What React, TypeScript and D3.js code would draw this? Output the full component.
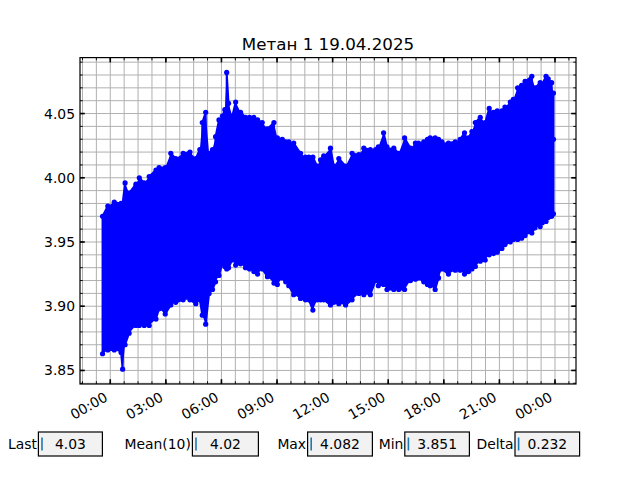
import React from "react";
import * as d3 from "d3";

// ---- data (envelope of the dense signal) ----
const times = [
  "18T23:35","18T23:52","19T00:13","19T00:35","19T00:40","19T00:48","19T01:01","19T01:23","19T01:34","19T01:50",
  "19T02:06","19T02:28","19T02:38","19T02:58","19T03:16","19T03:32","19T03:56","19T04:18","19T04:37","19T04:50",
  "19T04:58","19T05:09","19T05:20","19T05:31","19T05:41","19T05:52","19T06:03","19T06:11","19T06:17","19T06:23",
  "19T06:35","19T06:46","19T07:02","19T07:18","19T07:31","19T07:45","19T07:57","19T08:12","19T08:29","19T08:50",
  "19T09:01","19T09:17","19T09:28","19T09:38","19T09:54","19T10:16","19T10:32","19T10:43","19T10:56","19T11:10",
  "19T11:21","19T11:31","19T11:53","19T12:04","19T12:20","19T12:42","19T13:03","19T13:25","19T13:41","19T14:02",
  "19T14:19","19T14:28","19T14:45","19T14:56","19T15:18","19T15:34","19T15:53","19T16:12","19T16:28","19T16:38",
  "19T16:55","19T17:07","19T17:16","19T17:32","19T17:43","19T17:54","19T18:15","19T18:37","19T18:53","19T19:07",
  "19T19:20","19T19:31","19T19:42","19T19:58","19T20:14","19T20:27","19T20:41","19T20:53","19T21:08","19T21:18",
  "19T21:35","19T21:45","19T21:59","19T22:12","19T22:23","19T22:45","19T22:55","19T23:12","19T23:19","19T23:31",
  "19T23:38","19T23:49","19T23:55",
];

const highs = [
  3.970, 3.978, 3.981, 3.980, 3.980, 3.996, 3.988, 3.995, 4.000, 3.996,
  4.001, 4.006, 4.008, 4.008, 4.019, 4.015, 4.019, 4.020, 4.015, 4.022,
  4.043, 4.051, 4.019, 4.022, 4.032, 4.045, 4.048, 4.053, 4.082, 4.058,
  4.048, 4.059, 4.051, 4.047, 4.047, 4.047, 4.045, 4.043, 4.038, 4.043,
  4.031, 4.030, 4.028, 4.028, 4.027, 4.019, 4.016, 4.016, 4.016, 4.009,
  4.014, 4.017, 4.023, 4.009, 4.015, 4.009, 4.019, 4.018, 4.023, 4.022,
  4.022, 4.024, 4.035, 4.024, 4.023, 4.019, 4.031, 4.023, 4.027, 4.027,
  4.028, 4.030, 4.031, 4.031, 4.030, 4.028, 4.027, 4.028, 4.030, 4.035,
  4.031, 4.036, 4.043, 4.047, 4.043, 4.054, 4.051, 4.052, 4.052, 4.055,
  4.059, 4.061, 4.070, 4.072, 4.075, 4.079, 4.070, 4.074, 4.073, 4.079,
  4.077, 4.074, 4.066,
];

const lows = [
  3.863, 3.866, 3.866, 3.864, 3.851, 3.870, 3.879, 3.885, 3.885, 3.885,
  3.885, 3.890, 3.898, 3.894, 3.901, 3.903, 3.905, 3.905, 3.902, 3.905,
  3.893, 3.886, 3.910, 3.913, 3.919, 3.924, 3.933, 3.931, 3.929, 3.930,
  3.936, 3.932, 3.933, 3.930, 3.929, 3.927, 3.925, 3.929, 3.923, 3.918,
  3.917, 3.922, 3.919, 3.916, 3.909, 3.906, 3.905, 3.905, 3.897, 3.905,
  3.905, 3.905, 3.901, 3.903, 3.902, 3.901, 3.905, 3.910, 3.909, 3.909,
  3.920, 3.916, 3.917, 3.913, 3.913, 3.913, 3.913, 3.920, 3.921, 3.922,
  3.919, 3.917, 3.916, 3.913, 3.922, 3.929, 3.925, 3.928, 3.928, 3.925,
  3.927, 3.929, 3.931, 3.935, 3.936, 3.940, 3.941, 3.942, 3.945, 3.948,
  3.950, 3.952, 3.952, 3.953, 3.955, 3.957, 3.961, 3.962, 3.965, 3.966,
  3.969, 3.970, 3.972,
];

const lastValue = 4.03;

const title = "Метан 1 19.04.2025";
const yTicks = [3.85, 3.9, 3.95, 4.0, 4.05];

const statLabels = ["Last", "Mean(10)", "Max", "Min", "Delta"];
const statValues = ["4.03", "4.02", "4.082", "3.851", "0.232"];

// ---- layout ----
const W = 640, H = 480;
const L = 80, R = 576, T = 57.6, B = 384;
const boxX0 = [38.4, 192.4, 307.6, 404.8, 515.0];
const boxX1 = [102.4, 258.4, 372.4, 469.4, 579.6];
const FONT = "DejaVu Sans, sans-serif";
const BLUE = "#0000ff";

const parse = (s: string) => new Date("2025-04-" + s);

export default function App() {
  const dates = times.map(parse);
  const t0 = +dates[0], t1 = +dates[dates.length - 1];
  const tp = (t1 - t0) * 0.05;
  const x = d3.scaleTime().domain([new Date(t0 - tp), new Date(t1 + tp)]).range([L, R]);

  const vmin = Math.min(d3.min(lows)!, lastValue);
  const vmax = Math.max(d3.max(highs)!, lastValue);
  const vp = (vmax - vmin) * 0.05;
  const y = d3.scaleLinear().domain([vmin - vp, vmax + vp]).range([B, T]);

  // series: vertical strokes alternating between low and high
  const pts: { t: Date; v: number }[] = [];
  dates.forEach((d, i) => {
    if (i % 2 === 0) {
      pts.push({ t: d, v: lows[i] });
      pts.push({ t: d, v: highs[i] });
    } else {
      pts.push({ t: d, v: highs[i] });
      pts.push({ t: d, v: lows[i] });
    }
  });
  pts.push({ t: dates[dates.length - 1], v: lastValue });

  const band = dates.map((d, i) => ({ t: d, lo: lows[i], hi: highs[i] }));
  const area = d3.area<{ t: Date; lo: number; hi: number }>()
    .x((d) => x(d.t)).y0((d) => y(d.lo)).y1((d) => y(d.hi));
  const line = d3.line<{ t: Date; v: number }>().x((d) => x(d.t)).y((d) => y(d.v));

  const [d0, d1] = x.domain();
  const xMajor = d3.timeHour.every(3)!.range(d0, d1);
  const xMinor: Date[] = [];
  const step = 45 * 60 * 1000;
  let m = +xMajor[0];
  while (m - step >= +d0) m -= step;
  for (; m <= +d1; m += step) xMinor.push(new Date(m));
  const [y0, y1] = y.domain();
  const yMinor: number[] = [];
  for (let k = Math.ceil(y0 * 100); k <= Math.floor(y1 * 100); k++) yMinor.push(k / 100);
  const fmt = d3.timeFormat("%H:%M");

  const grid = "#b0b0b0";

  return (
    <svg width={W} height={H} style={{ position: "absolute", left: 0, top: 0, background: "#fff" }} fontFamily={FONT}>
      <rect x={0} y={0} width={W} height={H} fill="#fff" />
      {/* grid */}
      <g stroke={grid} strokeWidth={1}>
        {xMinor.map((d, i) => (
          <line key={"gx" + i} x1={x(d)} x2={x(d)} y1={T} y2={B} />
        ))}
        {yMinor.map((v, i) => (
          <line key={"gy" + i} x1={L} x2={R} y1={y(v)} y2={y(v)} />
        ))}
      </g>
      {/* data */}
      <path d={area(band)!} fill={BLUE} />
      <path d={line(pts)!} fill="none" stroke={BLUE} strokeWidth={2} strokeLinejoin="round" />
      {pts.map((p, i) => (
        <circle key={"p" + i} cx={x(p.t)} cy={y(p.v)} r={2.6} fill={BLUE} />
      ))}
      {/* spines */}
      <rect x={L} y={T} width={R - L} height={B - T} fill="none" stroke="#000" strokeWidth={1.2} />
      {/* ticks */}
      <g stroke="#000">
        {xMinor.map((d, i) => (
          <g key={"mx" + i} strokeWidth={0.9}>
            <line x1={x(d)} x2={x(d)} y1={B} y2={B - 2.8} />
            <line x1={x(d)} x2={x(d)} y1={T} y2={T + 2.8} />
          </g>
        ))}
        {yMinor.map((v, i) => (
          <g key={"my" + i} strokeWidth={0.9}>
            <line x1={L} x2={L + 2.8} y1={y(v)} y2={y(v)} />
            <line x1={R} x2={R - 2.8} y1={y(v)} y2={y(v)} />
          </g>
        ))}
        {xMajor.map((d, i) => (
          <g key={"Mx" + i} strokeWidth={1.6}>
            <line x1={x(d)} x2={x(d)} y1={B} y2={B - 4.8} />
            <line x1={x(d)} x2={x(d)} y1={T} y2={T + 4.8} />
          </g>
        ))}
        {yTicks.map((v, i) => (
          <g key={"My" + i} strokeWidth={1.6}>
            <line x1={L} x2={L + 4.8} y1={y(v)} y2={y(v)} />
            <line x1={R} x2={R - 4.8} y1={y(v)} y2={y(v)} />
          </g>
        ))}
      </g>
      {/* tick labels */}
      {yTicks.map((v, i) => (
        <text key={"yl" + i} x={L - 5} y={y(v)} dy="0.36em" textAnchor="end" fontSize={13.9} fill="#000">
          {v.toFixed(2)}
        </text>
      ))}
      {xMajor.map((d, i) => {
        const ax = x(d) - 1.7, ay = 400;
        return (
          <text key={"xl" + i} x={ax} y={ay} textAnchor="end" fontSize={13.9} fill="#000"
            transform={`rotate(-30, ${ax}, ${ay})`}>
            {fmt(d)}
          </text>
        );
      })}
      {/* title */}
      <text x={(L + R) / 2} y={49.5} textAnchor="middle" fontSize={16.7} fill="#000">{title}</text>
      {/* stat text boxes */}
      {statLabels.map((lab, i) => {
        const a = boxX0[i], b = boxX1[i];
        return (
          <g key={"s" + i}>
            <text x={a - 1.5} y={449} textAnchor="end" fontSize={13.9} fill="#000">{lab}</text>
            <rect x={a} y={432} width={b - a} height={24} fill="#f2f2f2" stroke="#000" strokeWidth={1.2} />
            <line x1={a + 3.6} x2={a + 3.6} y1={437.5} y2={450.5} stroke="#1f77b4" strokeWidth={1.6} />
            <text x={(a + b) / 2} y={449} textAnchor="middle" fontSize={13.9} fill="#000">{statValues[i]}</text>
          </g>
        );
      })}
    </svg>
  );
}
